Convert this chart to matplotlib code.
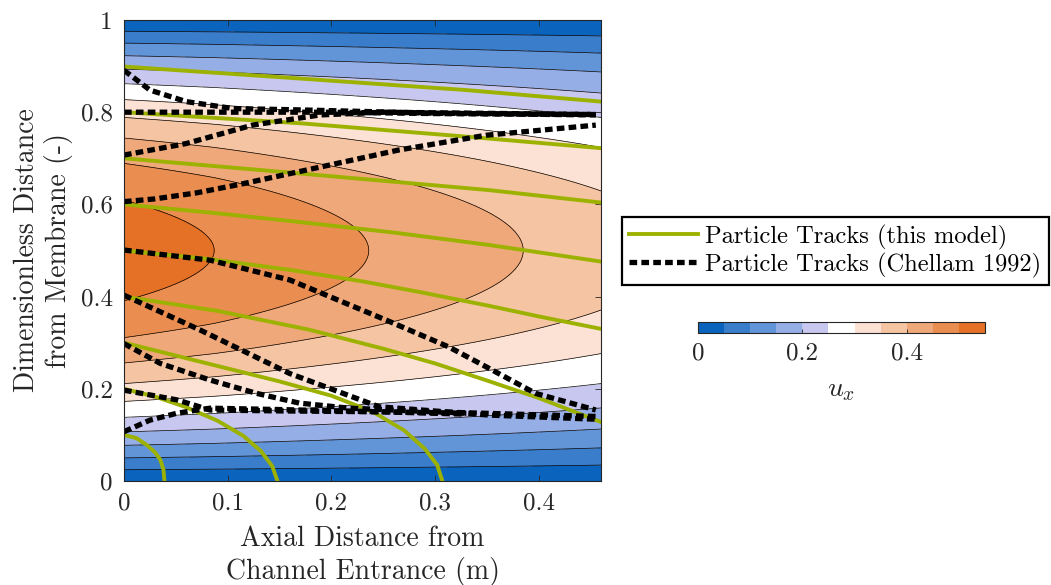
import numpy as np
import matplotlib
matplotlib.use('Agg')
from matplotlib import pyplot as plt
from matplotlib.colors import ListedColormap, BoundaryNorm

plt.rcParams['font.family'] = ['cmr10', 'DejaVu Serif']
plt.rcParams['mathtext.fontset'] = 'cm'
plt.rcParams['axes.formatter.use_mathtext'] = True
plt.rcParams['font.size'] = 18

# centreline axial velocity
uc_x = [0, 0.087, 0.236, 0.385, 0.46]
uc_val = [0.525, 0.5, 0.45, 0.4, 0.375]

levels = [0, 0.05, 0.1, 0.15, 0.2, 0.25, 0.3, 0.35, 0.4, 0.45, 0.5, 0.55]
colors = ['#0A64BE', '#3A7DCB', '#6294D8', '#96AEE6', '#C7C7F0', '#FFFFFF',
          '#FBE2D4', '#F5C4A2', '#EFA87A', '#EA8D50', '#E47126']
cb_ticks = [0, 0.2, 0.4]
cb_ticklabels = ['0', '0.2', '0.4']
xticks = [0, 0.1, 0.2, 0.3, 0.4]
xticklabels = ['0', '0.1', '0.2', '0.3', '0.4']
yticks = [0, 0.2, 0.4, 0.6, 0.8, 1]
yticklabels = ['0', '0.2', '0.4', '0.6', '0.8', '1']

# particle tracks, this model
model_x = [
    [0, 0.17, 0.33, 0.46],
    [0, 0.17, 0.33, 0.46],
    [0, 0.16, 0.352, 0.46],
    [0, 0.08, 0.16, 0.26, 0.352, 0.46],
    [0, 0.08, 0.16, 0.23, 0.285, 0.352, 0.40, 0.46],
    [0, 0.09, 0.179, 0.25, 0.30, 0.35, 0.40, 0.46],
    [0, 0.05, 0.1, 0.15, 0.2, 0.24, 0.27, 0.29, 0.302, 0.307],
    [0, 0.03, 0.06, 0.09, 0.115, 0.132, 0.143, 0.148],
    [0, 0.012, 0.022, 0.03, 0.035, 0.038, 0.039],
]
model_y = [
    [0.899, 0.873, 0.848, 0.823],
    [0.800, 0.776, 0.747, 0.722],
    [0.700, 0.669, 0.631, 0.604],
    [0.600, 0.583, 0.564, 0.539, 0.512, 0.476],
    [0.500, 0.482, 0.458, 0.433, 0.410, 0.380, 0.357, 0.330],
    [0.400, 0.369, 0.328, 0.287, 0.255, 0.218, 0.180, 0.128],
    [0.300, 0.272, 0.244, 0.216, 0.185, 0.150, 0.110, 0.070, 0.035, 0.0],
    [0.200, 0.183, 0.160, 0.131, 0.098, 0.065, 0.032, 0.0],
    [0.100, 0.093, 0.078, 0.062, 0.046, 0.025, 0.0],
]

# particle tracks, Chellam 1992
ch_x = [
    [0, 0.025, 0.06, 0.105, 0.17, 0.297, 0.455],
    [0, 0.1, 0.2, 0.3, 0.455],
    [0, 0.06, 0.124, 0.189, 0.25, 0.455],
    [0, 0.03, 0.07, 0.115, 0.179, 0.265, 0.349, 0.455],
    [0, 0.083, 0.16, 0.256, 0.313, 0.349, 0.397, 0.455],
    [0, 0.073, 0.16, 0.246, 0.352, 0.455],
    [0, 0.035, 0.083, 0.128, 0.169, 0.217, 0.3, 0.455],
    [0, 0.051, 0.083, 0.15, 0.25, 0.33],
    [0, 0.025, 0.051, 0.083, 0.15, 0.25, 0.33],
]
ch_y = [
    [0.891, 0.848, 0.823, 0.808, 0.805, 0.798, 0.794],
    [0.800, 0.800, 0.800, 0.797, 0.795],
    [0.707, 0.732, 0.772, 0.794, 0.800, 0.795],
    [0.606, 0.612, 0.625, 0.645, 0.676, 0.718, 0.750, 0.772],
    [0.501, 0.479, 0.436, 0.346, 0.291, 0.248, 0.190, 0.154],
    [0.403, 0.328, 0.233, 0.161, 0.143, 0.134],
    [0.298, 0.255, 0.219, 0.190, 0.169, 0.158, 0.150, 0.140],
    [0.197, 0.176, 0.154, 0.152, 0.150, 0.145],
    [0.107, 0.132, 0.147, 0.158, 0.155, 0.150, 0.147],
]

txt = '#262626'
green = '#9DB200'

fig = plt.figure(figsize=(10.51, 5.85), dpi=100)
ax = fig.add_axes([124/1051, 1-481/585, 477/1051, 461/585])

xg = np.linspace(0, 0.46, 400)
yg = np.linspace(0, 1, 400)
X, Y = np.meshgrid(xg, yg)
U = 4*np.interp(X, uc_x, uc_val)*Y*(1-Y)

cmap = ListedColormap(colors)
norm = BoundaryNorm(levels, cmap.N)
cf = ax.contourf(X, Y, U, levels=levels, cmap=cmap, norm=norm)
ax.contour(X, Y, U, levels=levels[1:], colors='k', linewidths=0.5)

for i in range(len(model_x)):
    l1, = ax.plot(model_x[i], model_y[i], color=green, lw=2.8, solid_joinstyle='round')
    if i == 0: h1 = l1
for i in range(len(ch_x)):
    l2, = ax.plot(ch_x[i], ch_y[i], color='k', lw=3.8, linestyle=(0, (1.45, 0.8)))
    if i == 0: h2 = l2

ax.set_xlim(0, 0.46)
ax.set_ylim(0, 1)
ax.set_xticks(xticks)
ax.set_xticklabels(xticklabels)
ax.set_yticks(yticks)
ax.set_yticklabels(yticklabels)
ax.tick_params(direction='in', length=4, width=0.6, colors=txt, top=True, right=True,
               labelcolor=txt, labelsize=18, pad=8)
for s in ax.spines.values():
    s.set_color(txt)
    s.set_linewidth(0.8)
ax.set_xlabel('Axial Distance from\nChannel Entrance (m)', color=txt, fontsize=20,
              labelpad=8, linespacing=1.22)
ax.set_ylabel('Dimensionless Distance\nfrom Membrane (-)', color=txt, fontsize=20,
              labelpad=6, linespacing=1.15)

leg = ax.legend([h1, h2], ['Particle Tracks (this model)', 'Particle Tracks (Chellam 1992)'],
                loc='center left', bbox_to_anchor=(622/1051, 1-251/585),
                bbox_transform=fig.transFigure, fancybox=False, framealpha=1,
                edgecolor='k', handlelength=2.8, handletextpad=0.3, borderpad=0.3,
                labelspacing=0.12, borderaxespad=0, fontsize=17.6)
leg.get_frame().set_linewidth(1.6)

cax = fig.add_axes([698/1051, 1-333/585, 287/1051, 11/585])
cb = fig.colorbar(cf, cax=cax, orientation='horizontal', ticks=cb_ticks)
cb.set_ticklabels(cb_ticklabels)
cb.ax.minorticks_off()
cb.ax.tick_params(direction='in', length=3, width=0.6, colors=txt, labelcolor=txt,
                  labelsize=18, pad=7)
cb.outline.set_edgecolor(txt)
cb.outline.set_linewidth(0.8)
fig.text(841/1051, 1-390/585, r'$u_x$', ha='center', va='center', color=txt, fontsize=20)

fig.savefig('out.png', dpi=100)
